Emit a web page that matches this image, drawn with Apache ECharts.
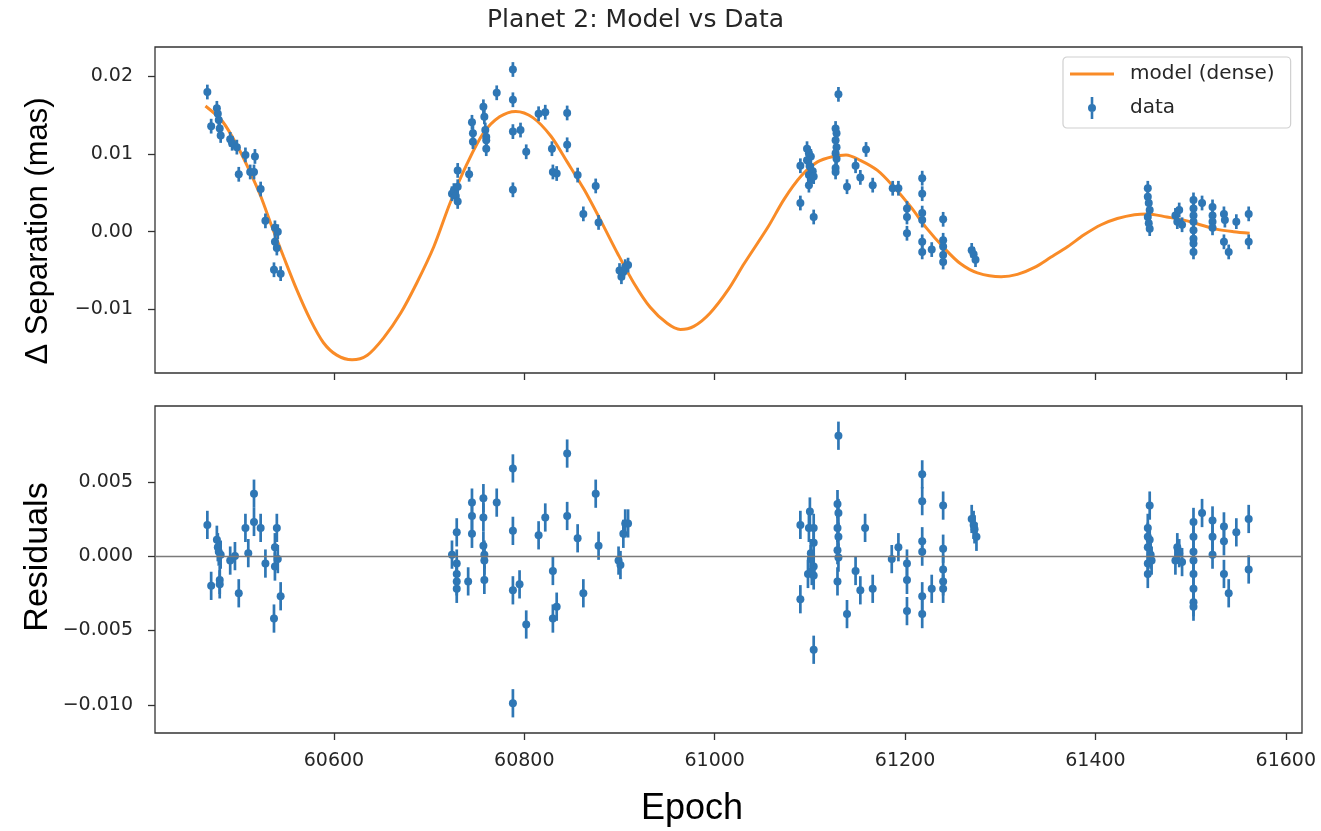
<!DOCTYPE html>
<html>
<head>
<meta charset="utf-8">
<title>Planet 2: Model vs Data</title>
<script src="https://cdn.jsdelivr.net/npm/echarts@6/dist/echarts.min.js"></script>
<style>
  html, body { margin: 0; padding: 0; background: #ffffff; }
  #chart { width: 1321px; height: 831px; }
</style>
</head>
<body>
<div id="chart"></div>
<script>
// ---- model curve (dense sampling of the fitted orbit) ----
const modelEpochs = [60465, 60483, 60500, 60513, 60523, 60535, 60547, 60561, 60575, 60589,
  60603, 60619, 60635, 60652, 60670, 60687, 60705, 60722, 60740, 60757,
  60774, 60791, 60809, 60828, 60845, 60863, 60880, 60898, 60915, 60932,
  60950, 60964, 60978, 60995, 61014, 61031, 61056, 61073, 61091, 61108,
  61125, 61138, 61153, 61171, 61188, 61206, 61223, 61241, 61258, 61276,
  61301, 61318, 61336, 61353, 61371, 61388, 61406, 61423, 61441, 61455,
  61475, 61493, 61510, 61528, 61545, 61562];
const modelSep = [0.0162, 0.0142, 0.0107, 0.0074, 0.0046, 0.0006, -0.0032, -0.0075, -0.0113, -0.0143,
  -0.0159, -0.0165, -0.0159, -0.0137, -0.0105, -0.0066, -0.0019, 0.0037, 0.0088, 0.0127,
  0.0148, 0.0155, 0.0147, 0.0123, 0.0090, 0.0054, 0.0015, -0.0028, -0.0066, -0.0097,
  -0.0118, -0.0126, -0.0122, -0.0105, -0.0075, -0.0041, 0.0006, 0.0042, 0.0072, 0.0090,
  0.0097, 0.0099, 0.0092, 0.0079, 0.0058, 0.0032, 0.0004, -0.0021, -0.0041, -0.0053,
  -0.0058, -0.0055, -0.0046, -0.0033, -0.0019, -0.0004, 0.0009, 0.0017, 0.0022, 0.0023,
  0.0019, 0.0015, 0.0009, 0.0003, 0.0000, -0.0002];

// ---- observed separations ----
const dataEpochs = [
  60467, 60471, 60477, 60478, 60479, 60480, 60481, 60491, 60493, 60498,
  60500, 60507, 60512, 60516, 60517, 60523, 60528, 60537, 60538, 60538,
  60540, 60541, 60544,
  60724, 60726, 60728, 60730, 60730, 60730, 60742, 60745, 60746, 60746,
  60757, 60758, 60759, 60760, 60760, 60760, 60771, 60788, 60788, 60788,
  60788, 60796, 60802, 60815, 60822, 60829, 60830, 60834, 60845, 60845,
  60856, 60862, 60875, 60878, 60900, 60902, 60904, 60906, 60909,
  61090, 61090, 61104, 61097, 61099, 61101, 61097, 61100, 61103, 61099,
  61101, 61099, 61104, 61130, 61127, 61128, 61127, 61128, 61127, 61128,
  61127, 61127, 61139, 61148, 61153, 61159, 61166, 61187, 61193, 61202,
  61202, 61202, 61218, 61218, 61218, 61218, 61218, 61218, 61228, 61240,
  61240, 61240, 61240, 61240, 61270, 61272, 61274,
  61455, 61455, 61456, 61457, 61455, 61456, 61457, 61484, 61486, 61488,
  61491, 61503, 61503, 61503, 61503, 61503, 61503, 61503, 61503, 61512,
  61523, 61523, 61523, 61523, 61535, 61536, 61535, 61540, 61548, 61561,
  61561];
const dataSep = [
  0.0180, 0.0136, 0.0159, 0.0152, 0.0144, 0.0133, 0.0124, 0.0119, 0.0114, 0.0109,
  0.0074, 0.0099, 0.0077, 0.0077, 0.0097, 0.0055, 0.0014, -0.0049, 0.0005, -0.0013,
  -0.0021, 0.0000, -0.0054,
  0.0049, 0.0053, 0.0046, 0.0058, 0.0039, 0.0079, 0.0074, 0.0141, 0.0127, 0.0116,
  0.0161, 0.0148, 0.0131, 0.0122, 0.0118, 0.0107, 0.0179, 0.0209, 0.0170, 0.0129,
  0.0054, 0.0131, 0.0103, 0.0152, 0.0154, 0.0107, 0.0077, 0.0075, 0.0153, 0.0112,
  0.0073, 0.0023, 0.0059, 0.0012, -0.0050, -0.0058, -0.0052, -0.0045, -0.0043,
  0.0085, 0.0037, 0.0019, 0.0107, 0.0101, 0.0097, 0.0092, 0.0084, 0.0078, 0.0073,
  0.0067, 0.0060, 0.0071, 0.0177, 0.0133, 0.0127, 0.0118, 0.0109, 0.0101, 0.0094,
  0.0082, 0.0077, 0.0058, 0.0085, 0.0070, 0.0106, 0.0060, 0.0056, 0.0056, 0.0030,
  0.0019, -0.0002, 0.0069, 0.0049, 0.0024, 0.0015, -0.0013, -0.0026, -0.0023, 0.0016,
  -0.0011, -0.0019, -0.0030, -0.0039, -0.0024, -0.0029, -0.0036,
  0.0056, 0.0045, 0.0037, 0.0028, 0.0019, 0.0011, 0.0004, 0.0021, 0.0013, 0.0028,
  0.0009, 0.0041, 0.0030, 0.0021, 0.0013, 0.0002, -0.0009, -0.0015, -0.0026, 0.0037,
  0.0032, 0.0021, 0.0013, 0.0005, 0.0023, 0.0015, -0.0013, -0.0026, 0.0013, 0.0023,
  -0.0013];

// ---- residuals (data minus model) ----
const residEpochs = [
  60467, 60471, 60477, 60478, 60479, 60480, 60481, 60480, 60491, 60496,
  60500, 60507, 60510, 60516, 60516, 60523, 60528, 60538, 60538, 60540,
  60541, 60537, 60544,
  60724, 60729, 60729, 60729, 60729, 60729, 60741, 60745, 60745, 60745,
  60757, 60757, 60757, 60758, 60758, 60758, 60771, 60788, 60788, 60788,
  60788, 60795, 60802, 60815, 60822, 60830, 60830, 60834, 60845, 60845,
  60856, 60862, 60875, 60878, 60899, 60901, 60904, 60906, 60909,
  61090, 61090, 61100, 61099, 61104, 61104, 61101, 61101, 61104, 61098,
  61104, 61102, 61104, 61130, 61129, 61130, 61129, 61130, 61129, 61130,
  61129, 61139, 61148, 61153, 61158, 61166, 61186, 61193, 61202, 61202,
  61202, 61218, 61218, 61218, 61218, 61218, 61218, 61228, 61240, 61240,
  61240, 61240, 61240, 61270, 61272, 61273, 61275,
  61457, 61455, 61455, 61457, 61455, 61458, 61459, 61455, 61455, 61484,
  61486, 61488, 61491, 61503, 61503, 61503, 61503, 61503, 61503, 61503,
  61503, 61512, 61523, 61523, 61523, 61535, 61535, 61535, 61540, 61548,
  61561, 61561];
const residVals = [
  0.0021, -0.0020, 0.0011, 0.0006, 0.0003, -0.0016, 0.0001, -0.0019, -0.0003, 0.0000,
  -0.0025, 0.0019, 0.0002, 0.0042, 0.0023, 0.0019, -0.0005, 0.0006, -0.0007, 0.0019,
  -0.0002, -0.0042, -0.0027,
  0.0001, 0.0016, -0.0005, -0.0012, -0.0017, -0.0022, -0.0017, 0.0036, 0.0027, 0.0015,
  0.0039, 0.0026, 0.0007, 0.0001, -0.0003, -0.0016, 0.0036, 0.0059, 0.0017, -0.0023,
  -0.0099, -0.0019, -0.0046, 0.0014, 0.0026, -0.0010, -0.0042, -0.0034, 0.0069, 0.0027,
  0.0012, -0.0025, 0.0042, 0.0007, -0.0003, -0.0006, 0.0015, 0.0022, 0.0022,
  0.0021, -0.0029, 0.0030, 0.0019, 0.0019, 0.0009, 0.0002, -0.0002, -0.0007, -0.0012,
  -0.0013, -0.0010, -0.0063, 0.0081, 0.0035, 0.0029, 0.0019, 0.0013, 0.0004, -0.0001,
  -0.0017, -0.0039, -0.0010, -0.0023, 0.0019, -0.0022, -0.0002, 0.0006, -0.0005, -0.0016,
  -0.0037, 0.0055, 0.0037, 0.0010, 0.0003, -0.0027, -0.0039, -0.0022, 0.0034, 0.0005,
  -0.0009, -0.0017, -0.0022, 0.0025, 0.0021, 0.0018, 0.0013,
  0.0034, 0.0019, 0.0013, 0.0011, 0.0006, 0.0001, -0.0003, -0.0005, -0.0012, -0.0003,
  0.0006, 0.0002, -0.0004, 0.0023, 0.0013, 0.0003, -0.0003, -0.0012, -0.0022, -0.0031,
  -0.0034, 0.0029, 0.0024, 0.0013, 0.0001, 0.0020, 0.0010, -0.0012, -0.0025, 0.0016,
  0.0025, -0.0009];

// one-sigma measurement uncertainty (mas)
const sigma = 0.00095;

// ---- axis ticks ----
const epochTicks = [60600, 60800, 61000, 61200, 61400, 61600];
const sepTicks = [-0.01, 0.00, 0.01, 0.02];
const sepTickLabels = ['\u22120.01', '0.00', '0.01', '0.02'];
const resTicks = [-0.010, -0.005, 0.000, 0.005];
const resTickLabels = ['\u22120.010', '\u22120.005', '0.000', '0.005'];

const BLUE = '#2f77b5';
const ORANGE = '#f98b27';
const INK = '#262626';
const FRAME = '#333333';

function pickLabel(ticks, labels) {
  return function (v) {
    for (let i = 0; i < ticks.length; i++) {
      if (Math.abs(ticks[i] - v) < 1e-9) return labels[i];
    }
    return '';
  };
}

// point with a vertical error bar, placed through the axis scales
function errorBarItem(params, api) {
  const x = api.value(0);
  const y = api.value(1);
  const c = api.coord([x, y]);
  const hi = api.coord([x, y + sigma]);
  const lo = api.coord([x, y - sigma]);
  const color = api.visual('color');
  return {
    type: 'group',
    children: [
      { type: 'line', shape: { x1: c[0], y1: hi[1], x2: c[0], y2: lo[1] },
        style: { stroke: color, lineWidth: 2.7 } },
      { type: 'circle', shape: { cx: c[0], cy: c[1], r: 4 },
        style: { fill: color } }
    ]
  };
}

const xMin = 60412, xMax = 61617;

function xAxisFor(gridIndex, showLabels) {
  return {
    type: 'value', gridIndex: gridIndex, min: xMin, max: xMax,
    position: 'bottom',
    axisLine: { show: false, onZero: false },
    splitLine: { show: false },
    axisTick: { show: true, customValues: epochTicks, length: 7,
      lineStyle: { color: FRAME, width: 1.3 } },
    axisLabel: { show: showLabels, customValues: epochTicks, margin: 19,
      fontFamily: 'DejaVu Sans', fontSize: 19, color: INK,
      formatter: function (v) { return String(v); } }
  };
}

function yAxisFor(gridIndex, min, max, ticks, labels) {
  return {
    type: 'value', gridIndex: gridIndex, min: min, max: max,
    position: 'left',
    axisLine: { show: false, onZero: false },
    splitLine: { show: false },
    axisTick: { show: true, customValues: ticks, length: 7,
      lineStyle: { color: FRAME, width: 1.3 } },
    axisLabel: { customValues: ticks, margin: 22,
      fontFamily: 'DejaVu Sans', fontSize: 19, color: INK,
      formatter: pickLabel(ticks, labels) }
  };
}

const chart = echarts.init(document.getElementById('chart'), null, { renderer: 'canvas' });

chart.setOption({
  animation: false,
  backgroundColor: '#ffffff',
  title: {
    text: 'Planet 2: Model vs Data',
    left: 487, top: 8, padding: 0,
    textStyle: { fontFamily: 'DejaVu Sans', fontSize: 25, fontWeight: 'normal', color: INK }
  },
  legend: {
    orient: 'vertical',
    left: 1063, top: 57,
    padding: [6, 16, 9, 7],
    itemWidth: 44, itemHeight: 22, itemGap: 12,
    backgroundColor: '#ffffff',
    borderColor: '#d0d0d0', borderWidth: 1.2, borderRadius: 4,
    textStyle: { fontFamily: 'DejaVu Sans', fontSize: 20, color: INK, padding: [0, 0, 0, 11] },
    data: [
      { name: 'model (dense)',
        icon: 'path://M0,0h0.1v0.1h-0.1z M43.9,21.9h0.1v0.1h-0.1z M0,9.6h44v2.8h-44z' },
      { name: 'data',
        icon: 'path://M0,0h0.1v0.1h-0.1z M43.9,21.9h0.1v0.1h-0.1z M20.7,0h2.6v22h-2.6z M18,11a4,4 0 1,1 8,0a4,4 0 1,1 -8,0z' }
    ]
  },
  grid: [
    { left: 155, top: 47, width: 1147, height: 326, show: true,
      borderColor: FRAME, borderWidth: 1.3, backgroundColor: 'transparent' },
    { left: 155, top: 406, width: 1147, height: 327, show: true,
      borderColor: FRAME, borderWidth: 1.3, backgroundColor: 'transparent' }
  ],
  xAxis: [ xAxisFor(0, false), xAxisFor(1, true) ],
  yAxis: [
    yAxisFor(0, -0.0182, 0.0238, sepTicks, sepTickLabels),
    yAxisFor(1, -0.0119, 0.0101, resTicks, resTickLabels)
  ],
  graphic: [
    { type: 'text', x: 38, y: 231, rotation: Math.PI / 2,
      style: { text: '\u0394 Separation (mas)', fill: '#000000',
        font: '31px "Liberation Sans", Arial, sans-serif',
        align: 'center', verticalAlign: 'middle' } },
    { type: 'text', x: 38, y: 557, rotation: Math.PI / 2,
      style: { text: 'Residuals', fill: '#000000',
        font: '34px "Liberation Sans", Arial, sans-serif',
        align: 'center', verticalAlign: 'middle' } },
    { type: 'text', x: 692, y: 809,
      style: { text: 'Epoch', fill: '#000000',
        font: '36px "Liberation Sans", Arial, sans-serif',
        align: 'center', verticalAlign: 'middle' } }
  ],
  series: [
    {
      name: 'model (dense)', type: 'line',
      xAxisIndex: 0, yAxisIndex: 0,
      data: modelEpochs.map(function (e, i) { return [e, modelSep[i]]; }),
      showSymbol: false, symbol: 'none', smooth: 0.3,
      itemStyle: { color: ORANGE },
      lineStyle: { color: ORANGE, width: 3 },
      z: 2
    },
    {
      name: 'data', type: 'custom',
      xAxisIndex: 0, yAxisIndex: 0,
      renderItem: errorBarItem,
      encode: { x: 0, y: 1 },
      data: dataEpochs.map(function (e, i) { return [e, dataSep[i]]; }),
      itemStyle: { color: BLUE },
      z: 3
    },
    {
      name: 'residuals', type: 'custom',
      xAxisIndex: 1, yAxisIndex: 1,
      renderItem: errorBarItem,
      encode: { x: 0, y: 1 },
      data: residEpochs.map(function (e, i) { return [e, residVals[i]]; }),
      itemStyle: { color: BLUE },
      markLine: {
        silent: true, symbol: 'none', label: { show: false },
        lineStyle: { color: '#7a7a7a', width: 1.4, type: 'solid' },
        data: [{ yAxis: 0 }]
      },
      z: 3
    }
  ]
});
</script>
</body>
</html>
